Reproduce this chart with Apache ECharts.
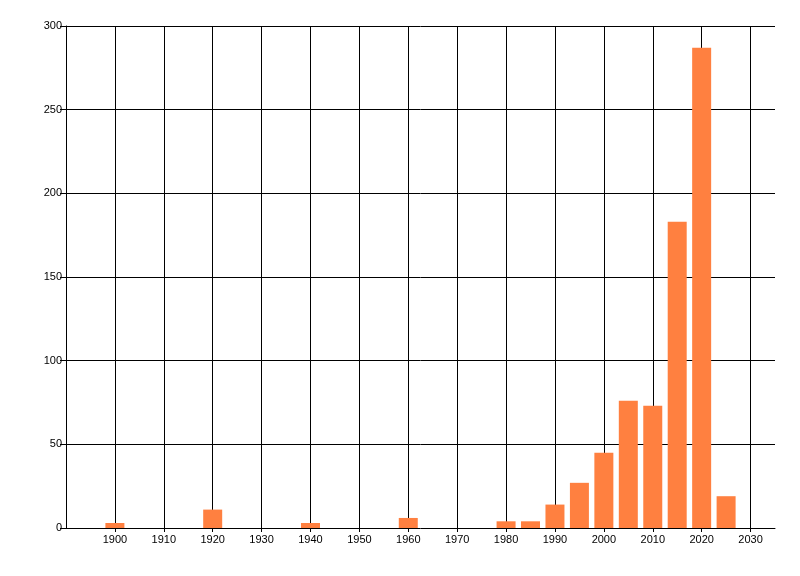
<!DOCTYPE html>
<html>
<head>
<meta charset="utf-8">
<script src="https://cdn.jsdelivr.net/npm/echarts@6/dist/echarts.min.js"></script>
<style>
  html, body { margin: 0; padding: 0; background: #fff; }
  #chart { width: 800px; height: 576px; }
</style>
</head>
<body>
<div id="chart"></div>
<script>
// years (bar centres) and counts
var YEARS = [1900, 1920, 1940, 1960, 1980, 1985, 1990, 1995, 2000, 2005, 2010, 2015, 2020, 2025];
var COUNTS = [3, 11, 3, 6, 4, 4, 14, 27, 45, 76, 73, 183, 287, 19];

var chart = echarts.init(document.getElementById('chart'));

// pair years with counts for the value x axis
var barData = YEARS.map(function (y, i) { return [y, COUNTS[i]]; });

var labelStyle = {
  color: '#000',
  fontFamily: 'Liberation Sans, Arial, sans-serif',
  fontSize: 11
};

chart.setOption({
  animation: false,
  backgroundColor: '#fff',
  grid: { left: 66, right: 25, top: 26, bottom: 48 },
  xAxis: {
    type: 'value',
    min: 1890,
    max: 2035,
    interval: 10,
    axisLine: { show: true, onZero: false, lineStyle: { color: '#000', width: 1 } },
    axisTick: { show: true, length: 4, lineStyle: { color: '#000' } },
    axisLabel: Object.assign({
      margin: 6,
      showMinLabel: false,
      showMaxLabel: false,
      formatter: function (v) { return String(v); }
    }, labelStyle),
    splitLine: {
      show: true,
      showMinLine: false,
      showMaxLine: false,
      lineStyle: { color: '#000', width: 1 }
    }
  },
  yAxis: {
    type: 'value',
    min: 0,
    max: 300,
    interval: 50,
    axisLine: { show: true, lineStyle: { color: '#000', width: 1 } },
    axisTick: { show: true, length: 6, lineStyle: { color: '#000' } },
    axisLabel: Object.assign({ margin: 4 }, labelStyle),
    splitLine: {
      show: true,
      showMinLine: false,
      lineStyle: { color: '#000', width: 1 }
    }
  },
  series: [{
    type: 'bar',
    data: barData,
    barWidth: 19,
    itemStyle: { color: '#FF8040' }
  }]
});
</script>
</body>
</html>
